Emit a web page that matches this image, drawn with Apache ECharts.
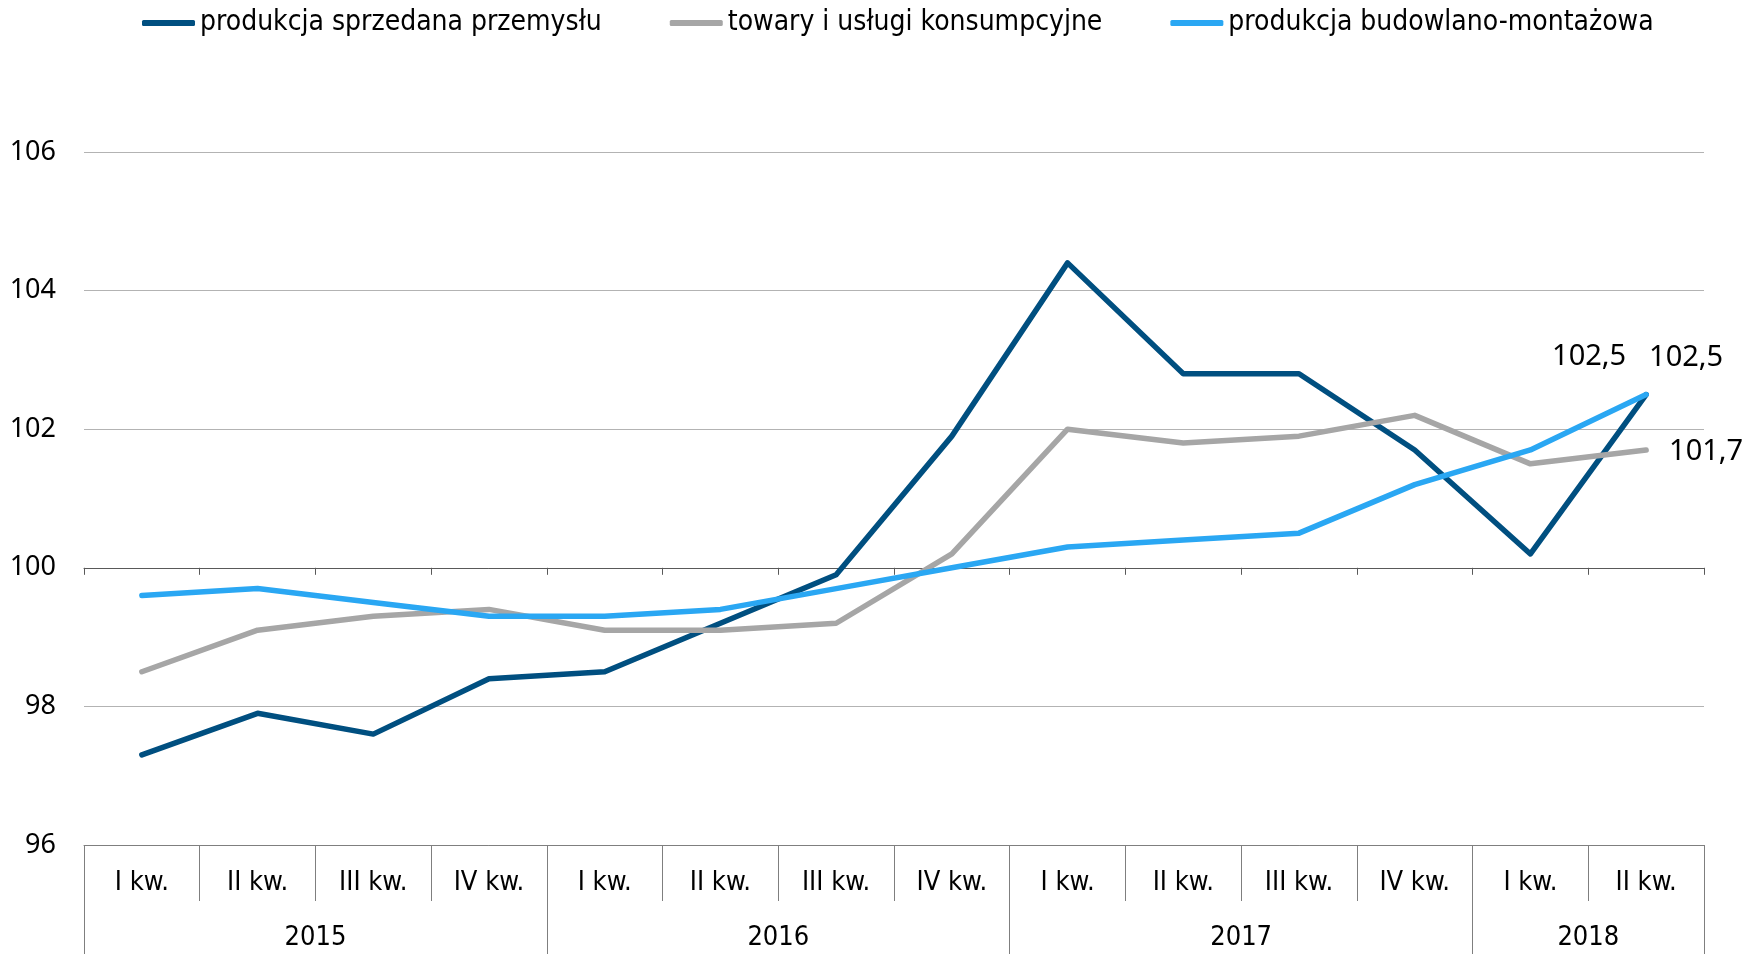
<!DOCTYPE html>
<html>
<head>
<meta charset="utf-8">
<script src="https://cdn.jsdelivr.net/npm/echarts@6/dist/echarts.min.js"></script>
<style>
  html, body { margin: 0; padding: 0; background: #fff; }
  #chart { width: 1754px; height: 954px; }
</style>
</head>
<body>
<div id="chart"></div>
<script>
'use strict';

var quarters = ['I kw.', 'II kw.', 'III kw.', 'IV kw.',
                'I kw.', 'II kw.', 'III kw.', 'IV kw.',
                'I kw.', 'II kw.', 'III kw.', 'IV kw.',
                'I kw.', 'II kw.'];
var years = ['2015', '2016', '2017', '2018'];
var yearSpans = [4, 4, 4, 2];

var seriesNames = ['produkcja sprzedana przemysłu', 'towary i usługi konsumpcyjne', 'produkcja budowlano-montażowa'];
var przemysl = [97.3, 97.9, 97.6, 98.4, 98.5, 99.2, 99.9, 101.9, 104.4, 102.8, 102.8, 101.7, 100.2, 102.5];
var konsumpcyjne = [98.5, 99.1, 99.3, 99.4, 99.1, 99.1, 99.2, 100.2, 102.0, 101.8, 101.9, 102.2, 101.5, 101.7];
var budowlano = [99.6, 99.7, 99.5, 99.3, 99.3, 99.4, 99.7, 100.0, 100.3, 100.4, 100.5, 101.2, 101.7, 102.5];

var yMin = 96, yMax = 106, yStep = 2, yCross = 100;

var COND = '"Liberation Sans Narrow", "DejaVu Sans Condensed", "Open Sans", sans-serif';
var NUM = '"Noto Sans", "Open Sans", sans-serif';

var gridTop = 152, gridBottom = 109, gridLeft = 84, gridRight = 50;
var gridHeight = 954 - gridTop - gridBottom;
var crossOffset = -gridHeight * (yCross - yMin) / (yMax - yMin);

// year boundaries and centres on a 0..n value scale
var yearEdges = [0], yearMids = [];
yearSpans.forEach(function(s, i) {
    var start = yearEdges[i];
    yearMids.push(start + s / 2);
    yearEdges.push(start + s);
});

function fmt(v) {
    return String(v.toFixed(1)).replace('.', ',');
}

function withLastLabel(vals) {
    return vals.map(function(v, i) {
        return i === vals.length - 1 ? { value: v, label: { show: true } } : v;
    });
}

function makeSeries(name, vals, color, offset) {
    return {
        name: name,
        type: 'line',
        data: withLastLabel(vals),
        xAxisIndex: 0,
        showSymbol: true,
        symbol: 'circle',
        symbolSize: 0,
        lineStyle: { color: color, width: 5.5, cap: 'round', join: 'round' },
        itemStyle: { color: color },
        label: {
            show: false,
            position: 'inside',
            offset: offset,
            color: '#000',
            fontFamily: NUM,
            fontSize: 29,
            formatter: function(p) { return fmt(p.value); }
        },
        emphasis: { disabled: true },
        z: 3
    };
}

var chart = echarts.init(document.getElementById('chart'));

chart.setOption({
    animation: false,
    legend: {
        top: 4,
        left: 137,
        itemWidth: 53,
        itemHeight: 6,
        itemGap: 68,
        icon: 'roundRect',
        textStyle: { fontFamily: COND, fontSize: 28, color: '#000', padding: [0, 0, 0, 0] },
        data: seriesNames
    },
    grid: { left: gridLeft, right: gridRight, top: gridTop, bottom: gridBottom },
    xAxis: [{
        type: 'category',
        data: quarters,
        position: 'bottom',
        boundaryGap: true,
        axisLine: { show: true, lineStyle: { color: '#7f7f7f', width: 1 } },
        axisTick: { show: true, interval: 0, length: 56, lineStyle: { color: '#7f7f7f', width: 1 } },
        axisLabel: { interval: 0, margin: 24, fontFamily: COND, fontSize: 27, color: '#000' },
        splitLine: { show: false }
    }, {
        type: 'category',
        data: quarters,
        position: 'bottom',
        offset: crossOffset,
        boundaryGap: true,
        axisLine: { show: true, lineStyle: { color: '#595959', width: 1 } },
        axisTick: { show: true, interval: 0, length: 7, lineStyle: { color: '#595959', width: 1 } },
        axisLabel: { show: false },
        splitLine: { show: false }
    }, {
        type: 'value',
        min: 0,
        max: quarters.length,
        position: 'bottom',
        axisLine: { show: false },
        axisTick: {
            show: true,
            length: 112,
            customValues: yearEdges,
            lineStyle: { color: '#7f7f7f', width: 1 }
        },
        axisLabel: {
            show: true,
            margin: 79,
            customValues: yearMids,
            fontFamily: COND,
            fontSize: 27,
            color: '#000',
            formatter: function(v) {
                var i = yearMids.indexOf(v);
                return i >= 0 ? years[i] : '';
            }
        },
        splitLine: { show: false }
    }],
    yAxis: {
        type: 'value',
        min: yMin,
        max: yMax,
        interval: yStep,
        axisLine: { show: false },
        axisTick: { show: false },
        axisLabel: { margin: 28, fontFamily: NUM, fontSize: 27, color: '#000' },
        splitLine: { show: true, lineStyle: { color: '#b3b3b3', width: 1 } }
    },
    series: [
        makeSeries(seriesNames[0], przemysl, '#004f80', [-57, -38]),
        makeSeries(seriesNames[1], konsumpcyjne, '#a6a6a6', [60, 2]),
        makeSeries(seriesNames[2], budowlano, '#2aa7f3', [40, -37])
    ]
});
</script>
</body>
</html>
